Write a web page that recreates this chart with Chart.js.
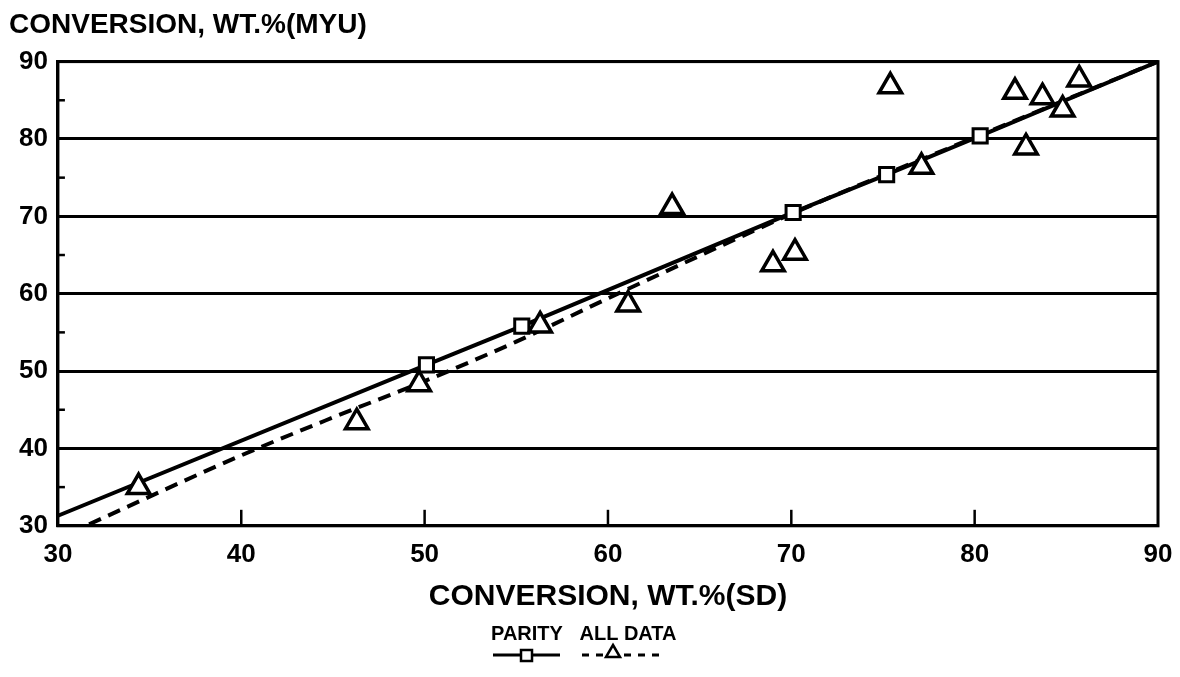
<!DOCTYPE html>
<html>
<head>
<meta charset="utf-8">
<script src="https://cdn.jsdelivr.net/npm/chart.js@4/dist/chart.umd.min.js"></script>
<style>
  html, body { margin: 0; padding: 0; background: #fff; }
  #wrap { width: 1180px; height: 677px; }
</style>
</head>
<body>
<div id="wrap"><canvas id="parityChart" width="1180" height="677"></canvas></div>
<script>
// all data points (triangles)
const sdConversion  = [34.4, 46.3, 49.7, 56.3, 61.1, 63.5, 69.0, 70.2, 77.1, 75.4, 82.2, 82.8, 83.7, 84.8, 85.7];
const myuConversion = [35.0, 43.4, 48.3, 55.9, 58.6, 71.2, 63.8, 65.3, 76.4, 86.8, 86.1, 78.9, 85.4, 83.8, 87.7];

// parity line (solid, squares at the inner points)
const parityX = [30, 50.1, 55.3, 70.1, 75.2, 80.3, 90];
const parityY = [31.3, 50.8, 55.8, 70.5, 75.4, 80.4, 90];

// fitted curve through all data (dashed)
const fitX = [31.7, 40, 45, 50, 55, 60, 65, 70, 80, 90];
const fitY = [30.2, 39.1, 44.0, 48.7, 53.8, 59.4, 64.9, 70.3, 80.2, 90];

const axisTicks = [30, 40, 50, 60, 70, 80, 90];
const minorY = [35, 45, 55, 65, 75, 85];

const FONT = "'Liberation Sans', Arial, sans-serif";

const pairs = (xs, ys) => xs.map((x, i) => ({ x: x, y: ys[i] }));

// frame, inner tick marks and the hand drawn legend
const framePlugin = {
    id: 'frame',
    beforeDatasetsDraw(chart) {
        const { ctx, chartArea: a, scales } = chart;
        ctx.save();
        ctx.strokeStyle = '#000';
        ctx.lineWidth = 3;
        ctx.strokeRect(a.left, a.top, a.right - a.left, a.bottom - a.top);
        ctx.lineWidth = 2.5;
        minorY.forEach(v => {
            const y = scales.y.getPixelForValue(v);
            ctx.beginPath();
            ctx.moveTo(a.left, y);
            ctx.lineTo(a.left + 7, y);
            ctx.stroke();
        });
        axisTicks.slice(1, -1).forEach(v => {
            const x = scales.x.getPixelForValue(v);
            ctx.beginPath();
            ctx.moveTo(x, a.bottom);
            ctx.lineTo(x, a.bottom - 16);
            ctx.stroke();
        });
        ctx.restore();
    },
    afterDraw(chart) {
        const ctx = chart.ctx;
        const cx = chart.width / 2;
        ctx.save();
        ctx.fillStyle = '#000';
        ctx.strokeStyle = '#000';
        ctx.font = 'bold 20px ' + FONT;
        ctx.textBaseline = 'middle';
        ctx.textAlign = 'center';
        ctx.fillText('PARITY', cx - 63, 634);
        ctx.fillText('ALL DATA', cx + 38, 634);

        // solid sample with square
        ctx.lineWidth = 3;
        ctx.beginPath();
        ctx.moveTo(cx - 97, 655);
        ctx.lineTo(cx - 30, 655);
        ctx.stroke();
        ctx.fillStyle = '#fff';
        ctx.lineWidth = 2.5;
        ctx.fillRect(cx - 69, 650, 11, 11);
        ctx.strokeRect(cx - 69, 650, 11, 11);

        // dashed sample with triangle
        ctx.lineWidth = 3;
        ctx.setLineDash([7, 7]);
        ctx.beginPath();
        ctx.moveTo(cx - 8, 655);
        ctx.lineTo(cx + 72, 655);
        ctx.stroke();
        ctx.setLineDash([]);
        ctx.lineWidth = 2.5;
        ctx.beginPath();
        ctx.moveTo(cx + 23, 645);
        ctx.lineTo(cx + 30, 657);
        ctx.lineTo(cx + 16, 657);
        ctx.closePath();
        ctx.fill();
        ctx.stroke();
        ctx.restore();
    }
};

new Chart(document.getElementById('parityChart'), {
    type: 'scatter',
    data: {
        datasets: [{
            label: 'ALL DATA',
            data: pairs(sdConversion, myuConversion),
            showLine: false,
            pointStyle: 'triangle',
            pointRadius: 13,
            pointBorderWidth: 3.5,
            pointBorderColor: '#000',
            pointBackgroundColor: '#fff'
        }, {
            label: 'PARITY',
            data: pairs(parityX, parityY),
            showLine: true,
            borderColor: '#000',
            borderWidth: 4,
            pointStyle: 'rect',
            pointRadius: [0, 10, 10, 10, 10, 10, 0],
            pointBorderWidth: 3,
            pointBorderColor: '#000',
            pointBackgroundColor: '#fff'
        }, {
            label: 'ALL DATA fit',
            data: pairs(fitX, fitY),
            showLine: true,
            borderColor: '#000',
            borderWidth: 4,
            borderDash: [13, 8],
            cubicInterpolationMode: 'monotone',
            pointRadius: 0
        }]
    },
    options: {
        responsive: false,
        animation: false,
        layout: { padding: { left: 9, right: 22, top: 4, bottom: 62 } },
        plugins: {
            legend: { display: false },
            tooltip: { enabled: false },
            title: {
                display: true,
                text: 'CONVERSION, WT.%(MYU)',
                align: 'start',
                color: '#000',
                font: { family: FONT, size: 28, weight: 'bold' },
                padding: { top: 4, bottom: 20 }
            }
        },
        scales: {
            x: {
                type: 'linear',
                min: 30,
                max: 90,
                afterBuildTicks: scale => { scale.ticks = axisTicks.map(v => ({ value: v })); },
                grid: { display: false },
                border: { display: true, color: '#000', width: 3 },
                ticks: {
                    color: '#000',
                    padding: 5,
                    font: { family: FONT, size: 26, weight: 'bold' }
                },
                title: {
                    display: true,
                    text: 'CONVERSION, WT.%(SD)',
                    color: '#000',
                    font: { family: FONT, size: 30, weight: 'bold' },
                    padding: { top: 4, bottom: 0 }
                }
            },
            y: {
                type: 'linear',
                min: 30,
                max: 90,
                afterBuildTicks: scale => { scale.ticks = axisTicks.map(v => ({ value: v })); },
                grid: { color: '#000', lineWidth: 3, drawTicks: false },
                border: { display: true, color: '#000', width: 3 },
                ticks: {
                    color: '#000',
                    padding: 10,
                    font: { family: FONT, size: 26, weight: 'bold' }
                }
            }
        }
    },
    plugins: [framePlugin]
});
</script>
</body>
</html>
